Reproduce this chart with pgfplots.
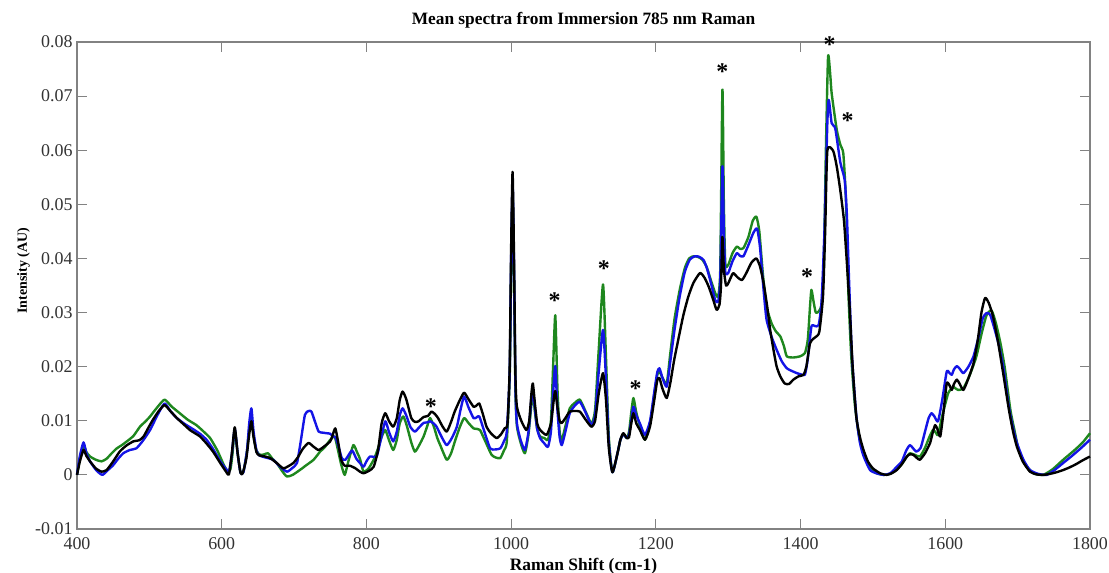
\documentclass[border=0pt]{standalone}
\usepackage{fontspec}
\setmainfont{Liberation Serif}
\usepackage{pgfplots}
\pgfplotsset{compat=1.18}
\usepackage{pgfplotstable}

% Mean Raman spectra (785 nm, immersion), three groups
\pgfplotstableread{
x y
400 0.0000
404 0.0030
409 0.0055
413 0.0042
418 0.0034
426 0.0028
434 0.0025
441 0.0030
448 0.0040
455 0.0049
462 0.0055
469 0.0062
478 0.0072
487 0.0089
494 0.0098
501 0.0108
511 0.0125
521 0.0139
531 0.0126
542 0.0114
553 0.0102
565 0.0092
575 0.0080
584 0.0068
594 0.0045
603 0.0018
608 0.0007
612 0.0010
615 0.0040
618 0.0082
622 0.0040
626 0.0004
630 0.0006
635 0.0045
638 0.0085
641 0.0105
644 0.0072
648 0.0045
653 0.0037
659 0.0038
664 0.0040
670 0.0030
676 0.0022
683 0.0008
690 -0.0003
698 0.0000
708 0.0009
717 0.0018
727 0.0028
736 0.0043
743 0.0052
750 0.0065
756 0.0071
760 0.0050
765 0.0020
770 0.0000
775 0.0025
782 0.0055
787 0.0042
791 0.0030
796 0.0006
803 0.0012
810 0.0028
815 0.0045
821 0.0070
826 0.0083
831 0.0065
837 0.0046
842 0.0065
846 0.0095
851 0.0108
856 0.0090
862 0.0060
867 0.0043
873 0.0055
879 0.0071
884 0.0090
888 0.0105
893 0.0090
898 0.0068
902 0.0055
911 0.0028
917 0.0040
923 0.0065
929 0.0088
935 0.0105
941 0.0096
948 0.0086
953 0.0085
957 0.0083
965 0.0060
973 0.0037
979 0.0032
985 0.0031
990 0.0045
994 0.0062
998 0.0180
1000 0.0380
1002 0.0520
1004 0.0360
1006 0.0150
1008 0.0090
1013 0.0060
1019 0.0040
1024 0.0075
1028 0.0130
1030 0.0150
1033 0.0115
1036 0.0085
1040 0.0071
1046 0.0068
1051 0.0065
1055 0.0100
1058 0.0200
1061 0.0295
1064 0.0160
1067 0.0080
1070 0.0065
1075 0.0090
1081 0.0123
1088 0.0133
1095 0.0139
1103 0.0117
1111 0.0095
1116 0.0120
1121 0.0230
1127 0.0352
1131 0.0220
1135 0.0070
1140 0.0005
1147 0.0040
1151 0.0065
1155 0.0075
1160 0.0068
1163 0.0080
1166 0.0115
1169 0.0142
1173 0.0115
1178 0.0090
1185 0.0065
1192 0.0095
1198 0.0150
1202 0.0185
1205 0.0191
1209 0.0180
1215 0.0169
1220 0.0225
1226 0.0290
1233 0.0342
1240 0.0382
1246 0.0400
1252 0.0404
1258 0.0403
1264 0.0398
1270 0.0385
1276 0.0360
1282 0.0336
1286 0.0330
1289 0.0380
1292 0.0712
1294 0.0500
1296 0.0390
1300 0.0388
1306 0.0410
1312 0.0422
1316 0.0418
1321 0.0419
1328 0.0440
1334 0.0470
1339 0.0477
1343 0.0450
1348 0.0370
1353 0.0311
1360 0.0280
1366 0.0265
1372 0.0256
1377 0.0238
1381 0.0219
1390 0.0217
1399 0.0219
1406 0.0225
1410 0.0250
1413 0.0310
1415 0.0342
1418 0.0320
1421 0.0300
1425 0.0302
1429 0.0315
1432 0.0380
1435 0.0600
1438 0.0773
1441 0.0740
1443 0.0705
1450 0.0638
1455 0.0610
1459 0.0595
1462 0.0530
1464 0.0453
1466 0.0340
1470 0.0220
1475 0.0130
1481 0.0070
1487 0.0040
1496 0.0012
1505 0.0003
1515 0.0000
1524 0.0002
1533 0.0010
1540 0.0020
1546 0.0032
1551 0.0040
1558 0.0037
1565 0.0034
1572 0.0050
1578 0.0070
1583 0.0083
1587 0.0078
1590 0.0074
1596 0.0110
1604 0.0151
1608 0.0158
1611 0.0163
1614 0.0160
1618 0.0157
1625 0.0160
1634 0.0185
1643 0.0219
1650 0.0260
1657 0.0295
1664 0.0304
1670 0.0280
1676 0.0245
1682 0.0200
1690 0.0120
1696 0.0080
1701 0.0049
1710 0.0020
1722 0.0003
1735 0.0000
1748 0.0010
1763 0.0028
1778 0.0045
1790 0.0060
1800 0.0077
}\greenspec

\pgfplotstableread{
x y
400 0.0000
404 0.0035
409 0.0060
413 0.0040
418 0.0025
427 0.0008
435 0.0000
442 0.0008
450 0.0018
457 0.0030
464 0.0040
473 0.0046
482 0.0049
491 0.0063
501 0.0083
511 0.0110
521 0.0132
529 0.0118
538 0.0105
549 0.0094
561 0.0084
570 0.0076
579 0.0065
588 0.0048
598 0.0025
607 0.0009
610 0.0005
614 0.0038
618 0.0085
622 0.0040
626 0.0004
630 0.0005
635 0.0045
638 0.0095
641 0.0123
644 0.0080
648 0.0045
652 0.0036
661 0.0032
671 0.0028
680 0.0016
690 0.0006
697 0.0012
704 0.0022
709 0.0060
715 0.0111
720 0.0118
724 0.0117
729 0.0098
734 0.0080
740 0.0078
745 0.0077
750 0.0076
754 0.0071
757 0.0070
761 0.0055
766 0.0031
771 0.0028
780 0.0045
786 0.0030
791 0.0022
796 0.0015
800 0.0025
805 0.0034
814 0.0034
819 0.0060
826 0.0099
831 0.0080
837 0.0062
842 0.0080
846 0.0110
850 0.0123
855 0.0110
861 0.0088
867 0.0080
873 0.0088
879 0.0096
884 0.0097
888 0.0099
893 0.0095
897 0.0089
904 0.0070
911 0.0055
918 0.0068
925 0.0089
930 0.0120
935 0.0145
941 0.0125
948 0.0105
952 0.0106
956 0.0108
963 0.0080
971 0.0049
978 0.0047
985 0.0049
990 0.0062
994 0.0080
998 0.0190
1000 0.0400
1002 0.0540
1004 0.0380
1006 0.0160
1008 0.0095
1013 0.0065
1019 0.0046
1024 0.0080
1028 0.0140
1030 0.0157
1033 0.0120
1036 0.0085
1040 0.0068
1046 0.0058
1051 0.0052
1055 0.0080
1058 0.0150
1061 0.0201
1064 0.0120
1067 0.0070
1070 0.0055
1075 0.0080
1081 0.0114
1088 0.0128
1095 0.0135
1103 0.0115
1111 0.0092
1116 0.0110
1121 0.0190
1127 0.0268
1131 0.0180
1135 0.0060
1140 0.0005
1147 0.0040
1151 0.0065
1155 0.0075
1160 0.0068
1163 0.0075
1166 0.0100
1169 0.0126
1173 0.0110
1178 0.0095
1185 0.0074
1192 0.0100
1198 0.0155
1202 0.0190
1205 0.0197
1209 0.0180
1215 0.0163
1220 0.0210
1226 0.0270
1233 0.0330
1240 0.0375
1247 0.0398
1254 0.0404
1260 0.0403
1266 0.0397
1271 0.0380
1277 0.0350
1282 0.0323
1286 0.0320
1289 0.0360
1292 0.0570
1294 0.0450
1296 0.0375
1300 0.0373
1306 0.0395
1312 0.0410
1316 0.0405
1321 0.0404
1328 0.0425
1335 0.0448
1340 0.0455
1344 0.0420
1349 0.0340
1353 0.0287
1360 0.0255
1367 0.0231
1374 0.0210
1381 0.0197
1388 0.0192
1395 0.0188
1400 0.0186
1406 0.0185
1410 0.0215
1415 0.0274
1420 0.0275
1425 0.0277
1429 0.0320
1433 0.0450
1437 0.0650
1439 0.0693
1443 0.0650
1448 0.0640
1455 0.0577
1461 0.0545
1464 0.0480
1467 0.0360
1471 0.0220
1477 0.0110
1482 0.0060
1487 0.0035
1496 0.0009
1505 0.0003
1515 0.0000
1524 0.0003
1533 0.0015
1540 0.0025
1546 0.0045
1551 0.0055
1555 0.0050
1560 0.0043
1566 0.0050
1572 0.0080
1577 0.0105
1581 0.0114
1585 0.0108
1590 0.0099
1596 0.0140
1602 0.0191
1606 0.0188
1609 0.0185
1612 0.0195
1616 0.0201
1620 0.0196
1625 0.0188
1632 0.0200
1639 0.0219
1646 0.0255
1652 0.0290
1657 0.0299
1662 0.0296
1668 0.0270
1674 0.0240
1680 0.0200
1688 0.0125
1694 0.0085
1699 0.0059
1708 0.0028
1717 0.0009
1728 0.0002
1740 0.0000
1750 0.0008
1763 0.0022
1775 0.0035
1788 0.0050
1800 0.0065
}\bluespec

\pgfplotstableread{
x y
400 0.0000
404 0.0025
409 0.0046
413 0.0035
418 0.0025
426 0.0012
434 0.0006
441 0.0009
450 0.0025
459 0.0043
468 0.0054
478 0.0062
486 0.0064
492 0.0071
499 0.0088
505 0.0102
513 0.0118
521 0.0129
529 0.0118
538 0.0105
547 0.0094
556 0.0083
563 0.0077
570 0.0071
579 0.0058
588 0.0043
598 0.0022
606 0.0006
610 0.0001
614 0.0040
618 0.0088
622 0.0040
626 0.0004
629 0.0003
634 0.0030
638 0.0075
641 0.0099
644 0.0070
648 0.0042
652 0.0036
660 0.0034
667 0.0031
676 0.0022
685 0.0012
692 0.0016
699 0.0022
705 0.0032
712 0.0048
720 0.0059
727 0.0052
734 0.0046
742 0.0053
750 0.0062
753 0.0072
757 0.0086
761 0.0060
765 0.0028
770 0.0017
777 0.0017
785 0.0012
791 0.0006
796 0.0003
803 0.0007
810 0.0015
816 0.0045
821 0.0095
826 0.0114
831 0.0100
837 0.0089
842 0.0105
846 0.0138
850 0.0154
855 0.0140
862 0.0105
867 0.0098
872 0.0099
879 0.0107
885 0.0109
890 0.0117
895 0.0112
899 0.0105
905 0.0090
911 0.0080
917 0.0098
922 0.0117
929 0.0138
935 0.0152
941 0.0140
948 0.0126
952 0.0128
956 0.0132
961 0.0112
966 0.0089
972 0.0077
980 0.0068
986 0.0075
991 0.0086
995 0.0095
998 0.0200
1000 0.0420
1002 0.0560
1004 0.0400
1006 0.0180
1008 0.0126
1014 0.0100
1021 0.0083
1025 0.0100
1028 0.0150
1030 0.0169
1033 0.0130
1036 0.0095
1040 0.0083
1049 0.0074
1055 0.0095
1059 0.0140
1061 0.0155
1064 0.0125
1067 0.0100
1070 0.0096
1075 0.0105
1081 0.0117
1088 0.0118
1095 0.0117
1103 0.0102
1111 0.0089
1116 0.0100
1121 0.0150
1127 0.0188
1131 0.0140
1135 0.0050
1140 0.0005
1147 0.0040
1151 0.0065
1155 0.0077
1160 0.0068
1163 0.0070
1166 0.0095
1169 0.0114
1173 0.0095
1178 0.0083
1185 0.0065
1192 0.0090
1198 0.0140
1202 0.0175
1205 0.0179
1209 0.0160
1215 0.0142
1220 0.0170
1225 0.0210
1231 0.0250
1238 0.0295
1245 0.0330
1252 0.0355
1261 0.0373
1267 0.0365
1273 0.0348
1279 0.0325
1284 0.0305
1288 0.0315
1290 0.0350
1292 0.0440
1294 0.0380
1297 0.0350
1300 0.0354
1304 0.0366
1307 0.0373
1313 0.0365
1319 0.0360
1325 0.0373
1332 0.0392
1339 0.0400
1344 0.0385
1349 0.0354
1354 0.0310
1358 0.0268
1363 0.0228
1367 0.0200
1372 0.0182
1378 0.0169
1384 0.0168
1390 0.0176
1397 0.0182
1404 0.0185
1408 0.0200
1413 0.0243
1418 0.0252
1422 0.0256
1426 0.0265
1431 0.0330
1434 0.0450
1437 0.0599
1445 0.0599
1450 0.0570
1455 0.0525
1460 0.0470
1464 0.0392
1468 0.0305
1472 0.0200
1477 0.0108
1482 0.0070
1487 0.0046
1493 0.0025
1500 0.0012
1510 0.0003
1519 0.0000
1526 0.0003
1533 0.0009
1540 0.0020
1547 0.0034
1551 0.0038
1556 0.0037
1561 0.0031
1565 0.0028
1572 0.0040
1579 0.0059
1583 0.0080
1586 0.0092
1589 0.0085
1593 0.0071
1597 0.0110
1602 0.0169
1606 0.0165
1609 0.0157
1612 0.0168
1616 0.0176
1620 0.0168
1625 0.0157
1631 0.0175
1639 0.0206
1645 0.0250
1650 0.0300
1655 0.0327
1660 0.0318
1666 0.0293
1673 0.0245
1680 0.0188
1688 0.0120
1694 0.0078
1699 0.0052
1707 0.0025
1717 0.0006
1726 0.0001
1736 0.0000
1745 0.0002
1754 0.0005
1763 0.0009
1772 0.0014
1781 0.0020
1790 0.0027
1800 0.0034
}\blackspec

\definecolor{specgreen}{RGB}{30,135,30}
\definecolor{specblue}{RGB}{20,20,230}
\definecolor{axgray}{RGB}{130,130,130}
\definecolor{labgray}{RGB}{50,50,50}

\begin{document}
\begin{tikzpicture}
\begin{axis}[
  scale only axis,
  width=1013bp, height=487bp,
  xmin=400, xmax=1800, ymin=-0.01, ymax=0.08,
  scaled y ticks=false, scaled x ticks=false,
  xtick={400,600,800,1000,1200,1400,1600,1800},
  xticklabels={400,600,800,1000,1200,1400,1600,1800},
  ytick={-0.01,0,0.01,0.02,0.03,0.04,0.05,0.06,0.07,0.08},
  yticklabels={-0.01,0,0.01,0.02,0.03,0.04,0.05,0.06,0.07,0.08},
  tick align=inside,
  major tick length=10bp,
  tick style={axgray, line width=1bp},
  axis line style={axgray, line width=1.2bp},
  ticklabel style={font=\fontsize{18}{20}\selectfont, text=labgray},
  xticklabel style={anchor=base, yshift=-20bp},
  yticklabel style={anchor=east, xshift=-1bp},
  title={\textbf{Mean spectra from Immersion 785 nm Raman}},
  title style={font=\fontsize{17.4}{20}\selectfont, anchor=base,
    at={(rel axis cs:0.5,1)}, yshift=12bp},
  xlabel={\textbf{Raman Shift (cm-1)}},
  xlabel style={font=\fontsize{17.5}{20}\selectfont, anchor=base,
    at={(rel axis cs:0.5,0)}, yshift=-41bp},
  ylabel={\textbf{Intensity (AU)}},
  ylabel style={font=\fontsize{14}{16}\selectfont, anchor=base,
    at={(rel axis cs:0,0.53)}, yshift=50bp},
  clip=false,
  every axis plot/.append style={no markers, line width=2.4bp, line join=round,
    smooth, tension=0.35},
]
\addplot[specgreen] table {\greenspec};
\addplot[specblue] table {\bluespec};
\addplot[black] table {\blackspec};

% peak markers
\begin{scope}[every node/.style={font=\fontsize{24}{24}\selectfont\bfseries, anchor=base, inner sep=0pt}]
\node at (axis cs:889,0.0112) {*};
\node at (axis cs:1060,0.0308) {*};
\node at (axis cs:1128,0.0367) {*};
\node at (axis cs:1172,0.0145) {*};
\node at (axis cs:1292,0.0731) {*};
\node at (axis cs:1409,0.0352) {*};
\node at (axis cs:1440,0.0780) {*};
\node at (axis cs:1465,0.0640) {*};
\end{scope}
\end{axis}
\pgfresetboundingbox
\path[use as bounding box] (-77bp,-44bp) rectangle (1032bp,529bp);
\end{tikzpicture}
\end{document}
